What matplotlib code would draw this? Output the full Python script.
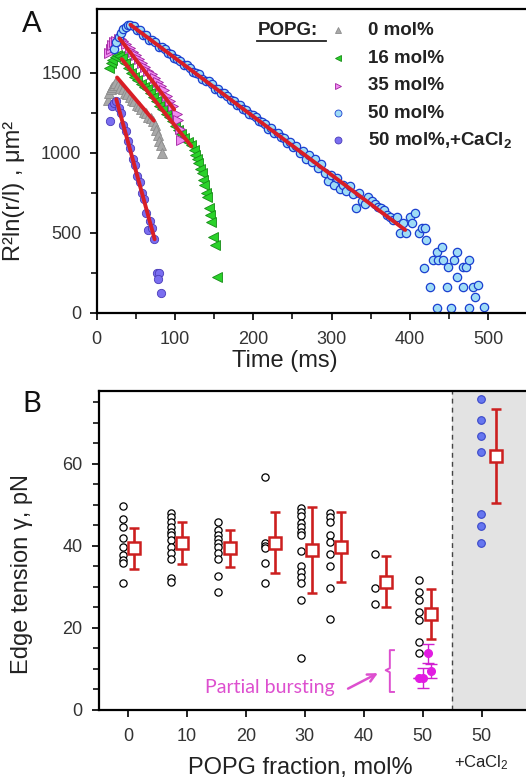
import matplotlib
matplotlib.use("Agg")
import matplotlib.pyplot as plt
from matplotlib.ticker import MultipleLocator

plt.rcParams['font.family'] = ['Liberation Sans', 'DejaVu Sans']
plt.rcParams['mathtext.default'] = 'regular'

# ---------------- Panel A data ----------------
gray_t = [14, 16, 18, 20, 22, 24, 27, 30, 33, 36, 39, 42, 45, 48, 51, 54, 57, 60, 63, 66, 69, 72, 74, 76, 78, 80, 82, 84]
gray_v = [1330, 1370, 1395, 1410, 1425, 1438, 1420, 1405, 1395, 1375, 1365, 1350, 1330, 1320, 1300, 1290, 1270, 1255,
          1245, 1225, 1215, 1195, 1175, 1140, 1110, 1070, 1045, 995]

green_t = [16, 18, 20, 23, 26, 29, 32, 36, 40, 44, 48, 52, 56, 60, 64, 68, 72, 76, 80, 84, 88, 92, 96, 100, 104, 108,
           112, 116, 120, 124, 126, 128, 130, 132, 134, 136, 137, 139, 141, 143, 145, 146, 149, 151, 153]
green_v = [1530, 1560, 1580, 1600, 1612, 1605, 1590, 1560, 1530, 1500, 1470, 1455, 1430, 1412, 1395, 1370, 1345, 1320,
           1290, 1272, 1240, 1222, 1195, 1165, 1140, 1118, 1090, 1068, 1045, 1017, 985, 960, 934, 900, 870, 829, 800,
           746, 725, 652, 611, 569, 475, 423, 225]

pink_t = [16, 18, 20, 22, 25, 28, 31, 34, 38, 42, 46, 50, 54, 58, 62, 66, 70, 74, 78, 82, 86, 90, 94, 98, 102, 104,
          106, 108]
pink_v = [1625, 1650, 1675, 1690, 1700, 1712, 1710, 1700, 1678, 1655, 1630, 1608, 1585, 1560, 1538, 1512, 1490, 1468,
          1440, 1415, 1390, 1355, 1325, 1290, 1240, 1205, 1150, 1080]

blue_t = [22, 25, 28, 31, 34, 37, 40, 43, 47, 51, 55, 59, 63, 67, 71, 75, 79, 83, 87, 91, 95, 99, 103, 107, 111, 115,
          119, 123, 127, 131, 135, 139, 143, 147, 151, 155, 159, 163, 167, 171, 175, 179, 183, 187, 191, 195, 199, 203,
          207, 211, 215, 219, 223, 227, 231, 235, 239, 243, 247, 251, 255, 259, 263, 267, 271, 275, 279, 283, 287, 291,
          295, 299, 303, 307, 311, 315, 319, 323, 327, 331, 335, 339, 343, 347, 351, 355, 359, 363, 367, 371, 375, 379,
          383, 387, 391, 395, 400, 403, 407, 411, 415, 419, 421, 418, 426, 430, 434, 436, 441, 442, 449, 447, 456, 460,
          460, 468, 472, 475, 468, 481, 487, 483, 434, 453, 475, 494]
blue_v = [1645, 1690, 1725, 1750, 1772, 1788, 1798, 1800, 1790, 1768, 1765, 1738, 1735, 1706, 1702, 1690, 1662, 1660,
          1648, 1620, 1618, 1590, 1588, 1575, 1548, 1545, 1530, 1502, 1500, 1490, 1458, 1446, 1445, 1430, 1400, 1398,
          1372, 1370, 1356, 1328, 1325, 1298, 1300, 1270, 1268, 1240, 1238, 1225, 1195, 1192, 1180, 1150, 1152, 1122,
          1125, 1095, 1090, 1060, 1068, 1035, 1040, 1000, 1010, 962, 985, 940, 958, 905, 930, 870, 820, 860, 800, 840,
          770, 800, 760, 790, 740, 655, 745, 700, 680, 720, 700, 680, 660, 655, 640, 610, 600, 580, 600, 500, 560, 500,
          600, 560, 620, 500, 530, 527, 455, 277, 162, 329, 381, 329, 412, 329, 287, 162, 329, 381, 225, 287, 287, 329,
          162, 162, 176, 100, 27, 27, 27, 33]

ca_t = [17, 19, 22, 25, 28, 31, 34, 37, 40, 43, 46, 49, 52, 55, 58, 61, 63, 66, 68, 70, 73, 77, 80, 78, 82]
ca_v = [1195, 1290, 1310, 1325, 1280, 1245, 1175, 1135, 1070, 1030, 960, 920, 855, 815, 745, 710, 623, 517, 575, 530,
        460, 250, 250, 212, 120]

# linear fits: (t_start, v_start, t_end, v_end)
fit_gray = (26, 1470, 73, 1200)
fit_green = (32, 1585, 121, 1040)
fit_pink = (29, 1715, 99, 1270)
fit_blue = (43, 1800, 394, 517)
fit_ca = (25, 1334, 74, 459)

legend_labels = ['0 mol%', '16 mol%', '35 mol%', '50 mol%', '50 mol%,+CaCl$_2$']

# ---------------- Panel B data ----------------
circ_x = [-0.9, 7.3, 15.3, 23.3, 29.3, 34.3, 41.9, 49.4]
mean_x = [1.1, 9.2, 17.3, 25.0, 31.2, 36.2, 43.7, 51.3]
groups = [
    [49.8, 46.7, 44.7, 41.9, 39.8, 37.8, 36.6, 35.8, 30.9],
    [48.0, 47.0, 45.9, 44.6, 43.5, 42.7, 41.5, 39.7, 38.2, 36.8, 32.1, 31.3],
    [45.9, 43.9, 42.7, 41.6, 40.7, 39.7, 38.2, 36.8, 32.8, 28.9],
    [56.9, 40.8, 40.0, 39.6, 35.8, 30.9],
    [49.2, 48.4, 47.3, 45.5, 44.6, 43.5, 42.8, 38.9, 35.0, 33.7, 32.5, 30.9, 26.8, 12.8],
    [48.1, 47.1, 45.9, 42.8, 40.9, 38.0, 35.0, 29.8, 22.1],
    [38.0, 29.8, 25.9],
    [31.8, 28.9, 26.8, 24.0, 22.0, 16.7, 13.8],
]
mean_v = [39.4, 40.8, 39.4, 40.8, 39.0, 39.8, 31.3, 23.3]
mean_err = [5.0, 5.1, 4.5, 7.4, 10.5, 8.6, 6.2, 6.1]

partial_x = [50.8, 51.3, 50.1, 49.3]
partial_v = [13.8, 9.5, 7.8, 7.9]
partial_err = [2.3, 1.8, 2.4, 0.0]

ca_x = 59.8
ca_vals = [75.9, 70.8, 66.8, 62.9, 47.9, 44.8, 40.8]
ca_mean_x = 62.4
ca_mean = 61.9
ca_err = 11.5

b_ticks = [0, 10, 20, 30, 40, 50, 60]
b_ticklabels = ['0', '10', '20', '30', '40', '50', '50']

# ---------------- Figure ----------------
W, H = 526, 781
fig = plt.figure(figsize=(W / 100, H / 100), dpi=100)

axA = fig.add_axes([96.7 / W, 1 - 312.7 / H, 438.5 / W, 303.2 / H])
axB = fig.add_axes([99 / W, 1 - 710 / H, 433 / W, 319 / H])

for ax in (axA, axB):
    for s in ('left', 'bottom', 'top'):
        ax.spines[s].set_linewidth(1.6)
    ax.spines['right'].set_visible(False)
    ax.tick_params(which='major', direction='out', length=5, width=1.3, labelsize=13, colors='#111',
                   labelcolor='#333')
    ax.tick_params(which='minor', direction='out', length=4, width=1.2, colors='#111')

# Panel A
ms_tri = 7
axA.plot(gray_t, gray_v, '^', ms=ms_tri, mfc='#a8a8a8', mec='#8c8c8c', mew=0.6, ls='none', zorder=2)
axA.plot(green_t, green_v, '<', ms=ms_tri, mfc='#2ad22a', mec='#168a16', mew=0.6, ls='none', zorder=2)
axA.plot(pink_t, pink_v, '>', ms=ms_tri, mfc='#f08cf0', mec='#a020a0', mew=0.6, ls='none', zorder=2)
axA.plot(blue_t, blue_v, 'o', ms=6, mfc='#9fdcf6', mec='#1b3fd0', mew=0.9, ls='none', zorder=2)
axA.plot(ca_t, ca_v, 'o', ms=6, mfc='#7a6ef0', mec='#4a3cb8', mew=0.6, ls='none', zorder=2)
for f in (fit_gray, fit_green, fit_pink, fit_blue, fit_ca):
    axA.plot([f[0], f[2]], [f[1], f[3]], color='#d81e26', lw=2.8, solid_capstyle='round', zorder=3)

axA.set_xlim(0, 560)
axA.set_ylim(0, 1895)
axA.xaxis.set_major_locator(MultipleLocator(100))
axA.xaxis.set_minor_locator(MultipleLocator(50))
axA.yaxis.set_major_locator(MultipleLocator(500))
axA.yaxis.set_minor_locator(MultipleLocator(250))
axA.tick_params(axis='x', which='major', pad=8)
axA.tick_params(axis='y', which='major', pad=6)
axA.set_xlabel('Time (ms)', fontsize=17, color='#222')
axA.xaxis.set_label_coords(0.43, -0.122)
axA.set_ylabel('R²ln(r/l) , μm²', fontsize=17, color='#222')
axA.yaxis.set_label_coords(-0.163, 0.40)

# legend (manual)
leg_markers = [('^', '#a8a8a8', '#8c8c8c'), ('<', '#2ad22a', '#168a16'), ('>', '#f08cf0', '#a020a0'),
               ('o', '#9fdcf6', '#1b3fd0'), ('o', '#7a6ef0', '#4a3cb8')]
rows = [0.932, 0.839, 0.749, 0.657, 0.568]
for (m, fc, ec), yy, lab in zip(leg_markers, rows, legend_labels):
    axA.plot([0.550], [yy], m, ms=5, mfc=fc, mec=ec, mew=0.6, transform=axA.transAxes, clip_on=False)
    axA.text(0.619, yy, lab, transform=axA.transAxes, fontsize=13.5, fontweight='bold', va='center', ha='left',
             color='#222')
axA.text(0.3665, rows[0], 'POPG:', transform=axA.transAxes, fontsize=13.5, fontweight='bold', va='center',
         ha='left', color='#222')
axA.plot([0.3665, 0.524], [0.897, 0.897], color='#222', lw=1.3, transform=axA.transAxes)

# Panel B
axB.axvspan(55, 75, color='#e3e3e3', zorder=0, lw=0)
axB.axvline(55, color='#444', lw=1.0, ls=(0, (3.5, 3)), zorder=1)
for cx, vals in zip(circ_x, groups):
    axB.plot([cx] * len(vals), vals, 'o', ms=5.2, mfc='white', mec='black', mew=0.9, ls='none', zorder=2)
axB.errorbar(mean_x, mean_v, yerr=mean_err, fmt='s', ms=8, mfc='white', mec='#cc1f1f', mew=1.8,
             ecolor='#cc1f1f', elinewidth=1.9, capsize=3.5, capthick=1.9, zorder=3)
axB.errorbar(partial_x, partial_v, yerr=partial_err, fmt='o', ms=5.5, mfc='#e21be2', mec='#e21be2',
             ecolor='#d020d0', elinewidth=1.0, capsize=4, capthick=1.0, zorder=3)
axB.plot([ca_x] * len(ca_vals), ca_vals, 'o', ms=5.5, mfc='#6676f0', mec='#3a48c8', mew=0.8, ls='none', zorder=2)
axB.errorbar([ca_mean_x], [ca_mean], yerr=[ca_err], fmt='s', ms=8, mfc='white', mec='#cc1f1f', mew=1.8,
             ecolor='#cc1f1f', elinewidth=1.9, capsize=3.5, capthick=1.9, zorder=3)

axB.set_xlim(-4.9, 68.5)
axB.set_ylim(0, 77.8)
axB.set_xticks(b_ticks)
axB.set_xticklabels(b_ticklabels)
axB.yaxis.set_major_locator(MultipleLocator(20))
axB.yaxis.set_minor_locator(MultipleLocator(5))
axB.tick_params(axis='x', which='major', pad=8)
axB.tick_params(axis='y', which='major', pad=7)
axB.text(60, -0.165, '+CaCl$_2$', transform=axB.get_xaxis_transform(), ha='center', va='center', fontsize=12,
         color='#222')
axB.set_xlabel('POPG fraction, mol%', fontsize=17, color='#222')
axB.xaxis.set_label_coords(0.464, -0.148)
axB.set_ylabel('Edge tension γ, pN', fontsize=17, color='#222')
axB.yaxis.set_label_coords(-0.152, 0.426)

# annotation: partial bursting
pc = '#dd4fcf'
axB.text(13.1, 5.4, 'Partial bursting', fontsize=14, color=pc, ha='left', va='center', family='Lato')
axB.annotate('', xy=(42.8, 9.3), xytext=(36.9, 4.9),
             arrowprops=dict(arrowstyle='->', color=pc, lw=1.8, mutation_scale=14))
axB.plot([45.1, 44.4, 44.4, 43.7, 44.4, 44.4, 45.1], [14.6, 14.6, 10.2, 9.7, 9.2, 4.4, 4.4], color=pc, lw=1.4)

fig.text(22 / W, 1 - 24 / H, 'A', fontsize=21, family='Lato', va='center', ha='left', color='#111')
fig.text(22 / W, 1 - 404 / H, 'B', fontsize=21, family='Lato', va='center', ha='left', color='#111')

fig.savefig('out.png', dpi=100)
